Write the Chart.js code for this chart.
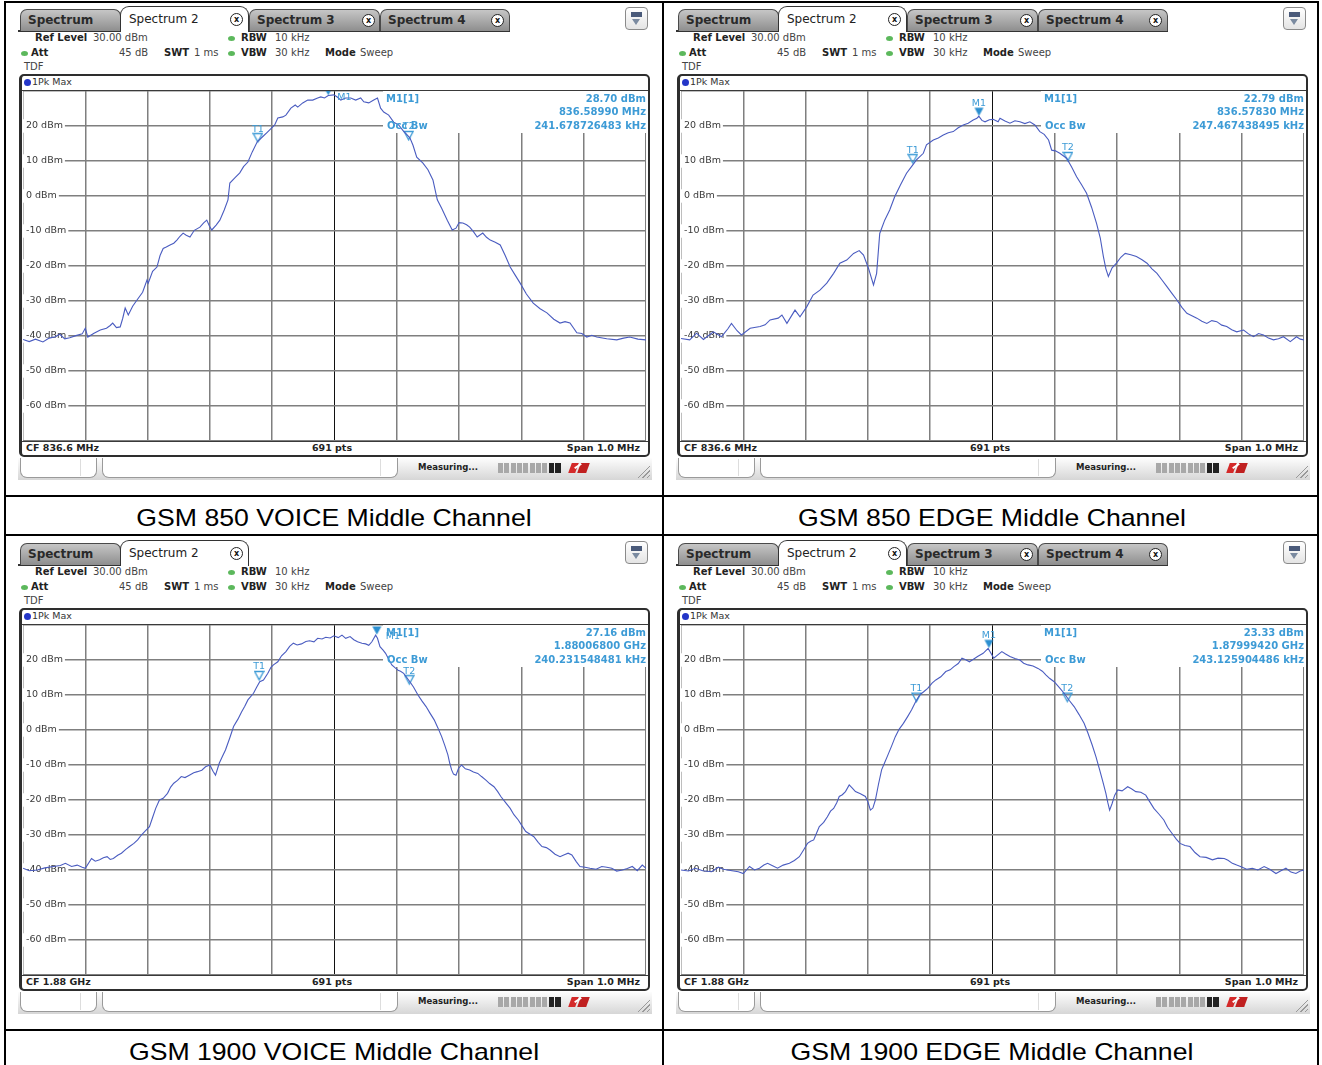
<!DOCTYPE html>
<html><head><meta charset="utf-8">
<script src="https://cdn.jsdelivr.net/npm/chart.js@4.4.1/dist/chart.umd.min.js"></script>
<style>
body{margin:0;width:1322px;height:1065px;background:#fff;position:relative;overflow:hidden;font-family:"DejaVu Sans",Verdana,sans-serif;}
.a{position:absolute;white-space:nowrap;}
.ln{position:absolute;background:#000;}
.cap{position:absolute;font-family:"Liberation Sans",Arial,sans-serif;font-size:24px;color:#000;text-align:center;line-height:30px;transform:scaleX(1.11);}
.tab{position:absolute;top:9px;height:22px;box-sizing:border-box;border:1px solid #4a4a4a;border-bottom:none;border-radius:7px 7px 0 0;background:linear-gradient(#c6c6c6,#8e8e8e);font-weight:bold;font-size:12px;line-height:20px;color:#2a2a2a;padding-left:7px;}
.tab.act{top:6px;height:26px;background:#fff;font-weight:normal;color:#222;line-height:24px;border:1.5px solid #333;border-bottom:none;border-radius:9px 9px 0 0;padding-left:8px;z-index:2;}
.cls{position:absolute;top:4px;width:11px;height:11px;border:1.3px solid #222;border-radius:50%;font-size:8px;line-height:11px;text-align:center;font-weight:bold;background:#fff;color:#111;}
.act .cls{top:6px;}
.h{font-size:10px;color:#444;line-height:12px;}
.hb{font-weight:bold;color:#222;}
.dot{position:absolute;width:7px;height:5px;border-radius:50%;background:#5cb85c;}
.frame{position:absolute;box-sizing:border-box;border:2px solid #2e2e2e;border-left:3px solid #2e2e2e;border-radius:5px;background:#fff;}
.info{position:absolute;font-size:10px;font-weight:bold;color:#3d9bd6;line-height:12px;white-space:nowrap;z-index:3;}
.bb{font-size:9.5px;font-weight:bold;color:#222;line-height:12px;}
.box{position:absolute;box-sizing:border-box;border:1px solid #9a9a9a;border-top:none;border-radius:0 0 7px 7px;background:#fff;}
</style></head>
<body>
<script>
// ---------------- DATA ----------------
const captions = ["GSM 850 VOICE Middle Channel","GSM 850 EDGE Middle Channel","GSM 1900 VOICE Middle Channel","GSM 1900 EDGE Middle Channel"];
const centerFreqLabels = ["CF 836.6 MHz","CF 836.6 MHz","CF 1.88 GHz","CF 1.88 GHz"];
const pointsLabel = "691 pts";
const spanLabel = "Span 1.0 MHz";
const tabsFull = ["Spectrum","Spectrum 2","Spectrum 3","Spectrum 4"];
const tabsShort = ["Spectrum","Spectrum 2"];
const refLevel = 30, dbPerDiv = 10, yDivs = 10;           // dBm
const spanKHz = 1000, xDivs = 10;                          // offset from CF, kHz
const markerNames = ["M1","T1","T2"];

// marker readouts: level, frequency, occupied bandwidth
const info850v  = ["28.70 dBm","836.58990 MHz","241.678726483 kHz"];
const info850e  = ["22.79 dBm","836.57830 MHz","247.467438495 kHz"];
const info1900v = ["27.16 dBm","1.88006800 GHz","240.231548481 kHz"];
const info1900e = ["23.33 dBm","1.87999420 GHz","243.125904486 kHz"];

// marker positions (kHz offset from CF, dBm)
const mkF850v  = [-10.1,-123,119];  const mkL850v  = [28.7,15.4,16.0];
const mkF850e  = [-21.7,-128,121];  const mkL850e  = [22.79,9.4,10.0];
const mkF1900v = [68.0,-121,120];   const mkL1900v = [27.16,14.3,13.1];
const mkF1900e = [-5.8,-122,120];   const mkL1900e = [23.33,8.1,8.1];

// traces: [kHz offset from CF, dBm]
const trace850v = [[-500,-41],[-490,-41.6],[-480,-40.9],[-468,-41.7],[-458,-40.6],[-448,-40.2],[-441,-39.5],[-433,-40.8],[-425,-40.5],[-415,-39.9],[-405,-39.4],[-400,-37.8],[-396,-40.3],[-386,-39.2],[-376,-38.3],[-366,-37.8],[-360,-37.0],[-356,-36.3],[-350,-37.6],[-344,-37.4],[-340,-35],[-336,-32],[-331,-34],[-324,-31.5],[-317,-29.7],[-308,-27.5],[-301,-24],[-299,-24.9],[-292,-21.5],[-285,-20.3],[-280,-17],[-275,-15],[-270,-14.6],[-264,-14],[-258,-13.5],[-253,-12.6],[-248,-11.5],[-243,-10.6],[-238,-11.2],[-232,-11.7],[-225,-9.8],[-216,-8.9],[-210,-7.7],[-205,-6.9],[-201,-8.5],[-197,-9.7],[-190,-8.3],[-184,-6.9],[-177,-4],[-171,-1.1],[-168,3.7],[-160,5.2],[-152,6.6],[-146,8.4],[-139,9.7],[-132,12.6],[-124,15.5],[-115,17],[-108,18.2],[-104,18.9],[-96,20.3],[-91,22.3],[-83,22.6],[-78,23.1],[-70,25.1],[-63,26],[-59,25.4],[-51,26.6],[-43,27.4],[-35,27.4],[-27,28],[-22,28.3],[-16,28],[-10,28.7],[-1,28.9],[5,28.2],[10,27.4],[18,28],[26,28],[34,27.4],[42,28],[47,26.9],[55,26.6],[63,27.4],[69,28],[74,25.1],[79,24],[87,23.1],[95,21.1],[103,20.3],[110,18.7],[121,16.6],[126,14.5],[132,11.1],[142,9.4],[150,7.5],[158,4.6],[165,-1.1],[172,-3.5],[181,-6.9],[189,-9.7],[195,-9.2],[200,-7.6],[206,-7.7],[212,-8.2],[217,-8.9],[223,-10.2],[229,-11.7],[238,-10.6],[244,-11.8],[250,-12.6],[258,-13.2],[266,-14],[274,-17],[282,-20.3],[290,-22.6],[298,-24.9],[308,-28],[319,-30.6],[330,-32.2],[341,-33.4],[352,-35.2],[362,-36.3],[370,-35.9],[378,-36.3],[389,-39.1],[397,-39.3],[405,-40.3],[413,-39.8],[421,-40.3],[437,-40.8],[453,-41.1],[464,-40.6],[474,-40.3],[487,-40.9],[500,-41.1]];

const trace850e = [[-500,-40.7],[-486,-41.1],[-475,-39.2],[-464,-41],[-448,-38.8],[-435,-40.2],[-425,-38],[-419,-36.4],[-410,-38.5],[-403,-39.7],[-389,-37.8],[-373,-37.3],[-365,-36.8],[-357,-35.4],[-344,-34.9],[-338,-34],[-330,-36.4],[-317,-32.6],[-309,-34.5],[-298,-31.6],[-288,-28.3],[-277,-26.9],[-266,-24.9],[-255,-22.1],[-245,-19.2],[-234,-18.3],[-223,-16.4],[-214,-15.6],[-207,-16.9],[-199,-20.7],[-191,-25.4],[-186,-22.1],[-181,-10.7],[-173,-6.9],[-165,-4],[-157,-0.2],[-148,3.1],[-138,6.5],[-130,8.4],[-122,10.3],[-111,12.2],[-106,14.6],[-95,16],[-87,16.6],[-79,17.4],[-71,18.1],[-63,18.4],[-55,19.5],[-47,20.3],[-39,20.8],[-31,21.7],[-25,22.2],[-22,22.8],[-17,21.6],[-12,21.2],[-5,21.8],[1,21.9],[9,21.2],[12,22.2],[20,21.4],[28,20.8],[36,21.5],[44,21.2],[52,20.7],[60,21.2],[68,20.3],[76,18.4],[83,17.6],[90,16],[95,13.1],[101,12.9],[108,12.2],[119,10.8],[127,8.3],[135,5.5],[143,3.2],[151,0.8],[159,-3.2],[167,-7.8],[173,-12],[178,-17.3],[182,-20.8],[186,-23],[192,-20.5],[199,-19.2],[206,-17.5],[213,-16.4],[222,-16.8],[231,-17.3],[240,-18.2],[248,-19.2],[256,-20.8],[264,-22.1],[272,-24],[280,-25.9],[288,-27.8],[296,-29.7],[304,-31.8],[312,-33.5],[320,-34.2],[328,-34.9],[336,-35.8],[344,-36.4],[352,-35.6],[360,-35.9],[368,-36.9],[376,-37.3],[384,-38.2],[392,-38.8],[403,-38.3],[411,-39.4],[419,-40.2],[427,-39.3],[435,-39.7],[443,-40.6],[451,-41.1],[459,-40.8],[467,-40.2],[478,-41.6],[488,-40.2],[494,-40.9],[500,-41.1]];

const trace1900v = [[-500,-39.5],[-490,-40.2],[-477,-40],[-465,-39.4],[-451,-39],[-440,-38.7],[-432,-38.1],[-422,-39],[-413,-38.6],[-405,-39.2],[-400,-39.5],[-390,-36.7],[-384,-37.5],[-377,-37.1],[-371,-36.5],[-365,-36.2],[-360,-37],[-355,-36.7],[-348,-35.8],[-342,-35.2],[-335,-34.1],[-329,-33.3],[-322,-32.4],[-316,-31.4],[-310,-30],[-304,-28.9],[-297,-27.6],[-292,-25],[-287,-22.4],[-281,-20],[-275,-19.5],[-268,-18.1],[-263,-16.3],[-258,-15.2],[-252,-14.4],[-246,-13.3],[-240,-13.6],[-233,-12.9],[-226,-12.2],[-220,-11.9],[-213,-11.5],[-207,-10.5],[-200,-10],[-195,-11.8],[-191,-12.9],[-185,-9.5],[-180,-7.6],[-175,-5.7],[-168,-2.2],[-162,1],[-155,3.1],[-149,5.2],[-144,6.8],[-139,8.6],[-130,10.5],[-125,12.2],[-120,13.8],[-114,14.3],[-107,16.2],[-102,17.9],[-98,18.6],[-91,19.5],[-85,21.2],[-78,22.4],[-72,23.9],[-66,24.8],[-60,24.3],[-53,24.6],[-46,25.3],[-40,25.5],[-33,25.2],[-27,26.2],[-20,26],[-14,26.5],[-7,26.3],[-1,26.9],[6,26.4],[12,27.1],[18,26.2],[25,26.7],[31,25.8],[37,25.2],[44,24.8],[50,24.6],[55,24.2],[60,25.2],[66,27.1],[69,26.2],[73,23.8],[78,22.8],[82,21.9],[87,20.2],[92,18.6],[97,17.8],[102,17.1],[106,16.8],[111,16.2],[116,15],[121,13.8],[127,12.2],[134,10],[140,8.4],[147,6.7],[153,4.9],[160,2.9],[166,0.6],[172,-1.9],[177,-4.4],[182,-7.1],[185,-9.5],[188,-11.4],[191,-12.6],[195,-12.9],[199,-11],[204,-10],[210,-11.1],[217,-11.4],[223,-12],[230,-12.4],[236,-13.3],[243,-14.3],[249,-15.3],[256,-16.2],[262,-17.6],[267,-19],[275,-20.8],[282,-22.4],[288,-24.2],[295,-25.7],[301,-27.4],[307,-29],[314,-29.8],[320,-30.5],[327,-32.1],[333,-33.3],[340,-33.6],[346,-34.3],[354,-35.5],[362,-36.2],[368,-35.7],[375,-35.2],[381,-35.7],[388,-37.6],[394,-39],[402,-39.2],[410,-39.5],[420,-39.8],[429,-39],[437,-39.2],[445,-39.5],[453,-40.3],[462,-40],[470,-39.6],[478,-39],[486,-40.2],[494,-38.6],[500,-39.5]];

const trace1900e = [[-500,-40],[-488,-40.3],[-477,-39.5],[-465,-40.2],[-451,-40.5],[-440,-39.2],[-432,-39.8],[-418,-40.2],[-408,-40.5],[-400,-41],[-390,-39],[-382,-40],[-374,-39.5],[-367,-38.6],[-361,-38.1],[-353,-38.8],[-345,-39.5],[-336,-38.6],[-326,-38.1],[-318,-37.3],[-310,-36.2],[-303,-34.2],[-297,-32.4],[-292,-31.8],[-287,-31.4],[-282,-29.3],[-278,-27.6],[-271,-26.4],[-265,-24.8],[-260,-23.2],[-255,-22.4],[-250,-20.8],[-246,-19],[-241,-18.5],[-236,-17.6],[-230,-15.7],[-225,-16.6],[-220,-17.6],[-212,-18.2],[-204,-19],[-200,-20.5],[-196,-22.9],[-192,-22.3],[-188,-20],[-183,-15.5],[-178,-11.4],[-173,-9.3],[-169,-7.6],[-162,-4.6],[-156,-1.9],[-150,0.2],[-143,1.9],[-136,3.9],[-130,5.7],[-123,8.2],[-117,10],[-110,11],[-104,11.9],[-97,13.4],[-91,14.3],[-83,15.2],[-75,16.7],[-68,17.2],[-62,18.1],[-55,19],[-49,20.5],[-43,20.1],[-37,19.5],[-30,20.3],[-24,21],[-15,21.9],[-7,23.3],[-2,21.8],[2,20.5],[8,21.4],[15,22.4],[21,21.7],[28,21],[36,20.4],[44,20],[50,19.1],[57,18.6],[65,18.3],[73,17.6],[80,16.8],[86,15.7],[92,14.7],[99,13.8],[107,12.2],[115,10.5],[123,8.5],[131,6.7],[139,4.4],[147,1.9],[153,-0.8],[160,-4.3],[166,-7.6],[172,-11.4],[177,-14.7],[182,-18.1],[185,-20.7],[188,-22.9],[192,-21],[196,-18.7],[201,-17.1],[208,-17.4],[217,-16.2],[223,-16.8],[230,-17.6],[238,-17.8],[246,-18.6],[252,-20.4],[259,-22.4],[267,-24],[275,-25.7],[281,-27.8],[288,-29.5],[295,-31.2],[301,-32.4],[309,-33],[317,-33.3],[325,-35],[333,-36.2],[343,-36.4],[353,-37.1],[362,-36.6],[372,-36.7],[378,-37.2],[385,-38.1],[392,-38.6],[398,-39],[408,-39.8],[417,-39.5],[426,-40],[436,-39],[445,-39.8],[455,-41],[463,-40.2],[471,-39.5],[479,-40.6],[487,-41],[494,-40.3],[500,-40]];

// ---------------- LAYOUT ----------------
const panels = [
  {ox:0,   oy:0,   tabs:tabsFull,  trace:trace850v,  mkF:mkF850v,  mkL:mkL850v,  info:info850v,  m1Label:'right', cf:centerFreqLabels[0], cap:captions[0]},
  {ox:658, oy:0,   tabs:tabsFull,  trace:trace850e,  mkF:mkF850e,  mkL:mkL850e,  info:info850e,  m1Label:'top',   cf:centerFreqLabels[1], cap:captions[1]},
  {ox:0,   oy:534, tabs:tabsShort, trace:trace1900v, mkF:mkF1900v, mkL:mkL1900v, info:info1900v, m1Label:'right', cf:centerFreqLabels[2], cap:captions[2]},
  {ox:658, oy:534, tabs:tabsFull,  trace:trace1900e, mkF:mkF1900e, mkL:mkL1900e, info:info1900e, m1Label:'top',   cf:centerFreqLabels[3], cap:captions[3]}
];
const MK = '#3d9bd6';

function add(parent, cls, css, html){
  const d = document.createElement('div');
  if (cls) d.className = cls;
  d.style.cssText = css || '';
  if (html !== undefined) d.innerHTML = html;
  parent.appendChild(d);
  return d;
}
const B = document.body;

// table grid lines
[[4,1,1315,2],[4,495,1315,2],[4,534,1315,2],[4,1029,1315,2]].forEach(r=>add(B,'ln',`left:${r[0]}px;top:${r[1]}px;width:${r[2]}px;height:${r[3]}px`));
[[4,1,2,1064],[662,1,2,1064],[1317,1,2,1064]].forEach(r=>add(B,'ln',`left:${r[0]}px;top:${r[1]}px;width:${r[2]}px;height:${r[3]}px`));

function triImg(filled){
  const c = document.createElement('canvas'); c.width = 11; c.height = 20;
  const x = c.getContext('2d');
  x.beginPath(); x.moveTo(1,1.5); x.lineTo(10,1.5); x.lineTo(5.5,9.8); x.closePath();
  if (filled){ x.fillStyle = '#2b8fd0'; x.fill(); }
  else { x.strokeStyle = MK; x.lineWidth = 1.3; x.stroke(); }
  return c;
}
const triFilled = triImg(true), triHollow = triImg(false);

panels.forEach((p, pi) => {
  const P = add(B, '', `position:absolute;left:${p.ox}px;top:${p.oy}px;width:660px;height:495px;`);
  add(B, 'cap', `left:${p.ox+6}px;top:${p.oy+503}px;width:656px;`, p.cap);

  add(P, '', `position:absolute;left:18px;top:30px;width:${p.tabs.length===4?492:230}px;height:1.5px;background:#333;`);
  const tabGeom = [[20,101,null],[120,129,236],[249,131,368],[380,130,497]];
  p.tabs.forEach((t, i) => {
    const g = tabGeom[i];
    const tb = add(P, 'tab' + (i===1?' act':''), `left:${g[0]}px;width:${g[1]}px;`, t);
    if (g[2]) add(tb, 'cls', `left:${g[2]-g[0]-7}px;`, 'x');
  });
  const ic = add(P, '', 'position:absolute;left:625px;top:7px;width:23px;height:23px;box-sizing:border-box;border:1px solid #8a8a8a;border-radius:4px;background:linear-gradient(#fff,#e4e4e4);');
  add(ic, '', 'position:absolute;left:5px;top:4px;width:11px;height:5px;background:#4a5a7a;');
  add(ic, '', 'position:absolute;left:6px;top:11px;width:0;height:0;border-left:4.5px solid transparent;border-right:4.5px solid transparent;border-top:6px solid #7a8aa0;');

  const hdr = [
    [35,32,'Ref Level',true],[93,32,'30.00 dBm',false],[241,32,'RBW',true],[275,32,'10 kHz',false],
    [31,47,'Att',true],[119,47,'45 dB',false],[164,47,'SWT',true],[194,47,'1 ms',false],[241,47,'VBW',true],[275,47,'30 kHz',false],[325,47,'Mode',true],[360,47,'Sweep',false],
    [24,61,'TDF',false]
  ];
  hdr.forEach(h => add(P, 'a h' + (h[3]?' hb':''), `left:${h[0]}px;top:${h[1]}px;`, h[2]));
  add(P, 'dot', 'left:228px;top:36px;');
  add(P, 'dot', 'left:21px;top:51px;');
  add(P, 'dot', 'left:228px;top:51px;');

  add(P, 'frame', 'left:19px;top:74px;width:631px;height:383px;');
  add(P, '', 'position:absolute;left:24px;top:79px;width:7px;height:7px;border-radius:50%;background:#2436c8;');
  add(P, 'a', 'left:32px;top:76px;font-size:9.5px;color:#333;line-height:12px;', '1Pk Max');
  add(P, 'a bb', 'left:26px;top:442px;', p.cf);
  add(P, 'a bb', 'left:232px;top:442px;width:200px;text-align:center;', pointsLabel);
  add(P, 'a bb', 'left:440px;top:442px;width:200px;text-align:right;', spanLabel);

  add(P, '', 'position:absolute;left:18px;top:458px;width:634px;height:22px;background:linear-gradient(#fdfdfd,#d6d6d6);');
  add(P, 'box', 'left:20px;top:458px;width:77px;height:20px;');
  add(P, '', 'position:absolute;left:80px;top:459px;width:1px;height:17px;background:#ddd;');
  add(P, 'box', 'left:102px;top:458px;width:296px;height:20px;');
  add(P, '', 'position:absolute;left:380px;top:459px;width:1px;height:17px;background:#ddd;');
  add(P, 'a', 'left:418px;top:462px;font-size:8.5px;font-weight:bold;color:#222;line-height:11px;', 'Measuring...');
  for (let k = 0; k < 8; k++) add(P, '', `position:absolute;left:${498+k*6.3}px;top:463px;width:5px;height:10px;background:#a8a8a8;`);
  add(P, '', 'position:absolute;left:549px;top:463px;width:5px;height:10px;background:#222;');
  add(P, '', 'position:absolute;left:555px;top:463px;width:6px;height:10px;background:#222;');
  add(P, '', 'position:absolute;left:570px;top:463px;width:7px;height:10px;background:#d42a2a;transform:skewX(-20deg);');
  add(P, '', 'position:absolute;left:579px;top:463px;width:9px;height:10px;background:#c02020;transform:skewX(-20deg);');
  add(P, '', 'position:absolute;left:574px;top:465px;width:8px;height:2px;background:#fff;transform:rotate(-35deg);');
  add(P, '', 'position:absolute;left:636px;top:464px;width:14px;height:14px;background:repeating-linear-gradient(135deg,transparent 0 2px,#999 2px 3px);clip-path:polygon(100% 0,100% 100%,0 100%);');

  // chart canvas
  const cv = document.createElement('canvas');
  cv.width = 623; cv.height = 350;
  cv.style.cssText = 'position:absolute;left:23px;top:91px;width:623px;height:350px;';
  P.appendChild(cv);
  add(P, '', 'position:absolute;left:22px;top:89.5px;width:626px;height:1.5px;background:#3a3a3a;');
  add(P, '', 'position:absolute;left:22px;top:440.5px;width:626px;height:1.5px;background:#3a3a3a;');

  // marker readout (above canvas)
  add(P, 'info', 'left:386px;top:93px;', 'M1[1]');
  add(P, 'info', 'left:440px;top:93px;width:206px;text-align:right;', p.info[0]);
  add(P, 'info', 'left:440px;top:106px;width:206px;text-align:right;', p.info[1]);
  add(P, 'info', 'left:440px;top:120px;width:206px;text-align:right;', p.info[2]);
  add(P, 'info', 'left:387px;top:120px;', 'Occ Bw');

  const infoBox = {
    id: 'infoBox',
    beforeDatasetsDraw(chart){
      const {ctx, chartArea:a} = chart;
      ctx.save(); ctx.fillStyle = '#fff';
      ctx.fillRect(a.right - 263, a.top, 263, 42);
      ctx.restore();
    },
    afterDatasetsDraw(chart){
      const meta = chart.getDatasetMeta(1);
      const ctx = chart.ctx;
      ctx.save();
      ctx.font = '9.5px "DejaVu Sans"'; ctx.fillStyle = MK; ctx.textBaseline = 'middle';
      meta.data.forEach((pt, i) => {
        if (i === 0 && p.m1Label === 'right'){ ctx.textAlign = 'left'; ctx.fillText(markerNames[i], pt.x + 9, pt.y + 2); }
        else { ctx.textAlign = 'center'; ctx.fillText(markerNames[i], pt.x, pt.y - 13); }
      });
      ctx.restore();
    }
  };

  new Chart(cv, {
    type: 'line',
    data: {
      datasets: [
        { data: p.trace.map(d => ({x:d[0], y:d[1]})), borderColor:'#4a5cc0', borderWidth:1.1, pointRadius:0, tension:0, fill:false },
        { data: p.mkF.map((f,i) => ({x:f, y:p.mkL[i]})), showLine:false, clip:false,
          pointStyle: ctx => ctx.dataIndex === 0 ? triFilled : triHollow, pointRadius:5, borderWidth:0 }
      ]
    },
    options: {
      responsive:false, animation:false, maintainAspectRatio:false,
      layout:{padding:0, autoPadding:false},
      plugins:{legend:{display:false}, tooltip:{enabled:false}},
      scales:{
        x:{ type:'linear', min:-spanKHz/2, max:spanKHz/2,
            ticks:{display:false, stepSize:spanKHz/xDivs},
            grid:{drawTicks:false, color: c => c.tick && c.tick.value === 0 ? '#111' : '#7f7f7f', lineWidth: c => c.tick && c.tick.value === 0 ? 1 : 1.5},
            border:{display:false},
            afterFit: s => { s.height = 0; s.paddingLeft = 0; s.paddingRight = 0; } },
        y:{ type:'linear', min:refLevel - dbPerDiv*yDivs, max:refLevel,
            ticks:{stepSize:dbPerDiv, mirror:true, padding:3, color:'#3a3a3a', font:{family:'DejaVu Sans', size:9.5},
                   callback: v => (v === refLevel || v === refLevel - dbPerDiv*yDivs) ? '' : v + ' dBm',
                   showLabelBackdrop: c => c.tick && c.tick.value !== refLevel && c.tick.value !== refLevel - dbPerDiv*yDivs,
                   backdropColor:'#fff', backdropPadding:{left:3,right:2,top:1,bottom:1}},
            grid:{drawTicks:false, color:'#7f7f7f', lineWidth:1.5},
            border:{display:false},
            afterFit: s => { s.width = 0; s.paddingTop = 0; s.paddingBottom = 0; } }
      }
    },
    plugins:[infoBox]
  });
});
</script>
</body></html>
